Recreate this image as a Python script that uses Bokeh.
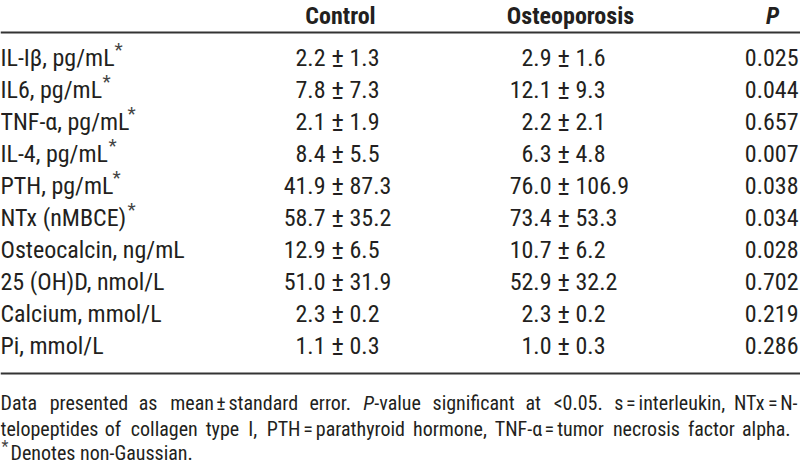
from bokeh.plotting import figure
from bokeh.models import Range1d
from bokeh.core.properties import value
from bokeh.embed import file_html
from bokeh.resources import INLINE

# ---- data ----
variables = ["IL-Iβ, pg/mL", "IL6, pg/mL", "TNF-α, pg/mL", "IL-4, pg/mL", "PTH, pg/mL",
             "NTx (nMBCE)", "Osteocalcin, ng/mL", "25 (OH)D, nmol/L", "Calcium, mmol/L", "Pi, mmol/L"]
non_gaussian = [True, True, True, True, True, True, False, False, False, False]
control_mean = ["2.2", "7.8", "2.1", "8.4", "41.9", "58.7", "12.9", "51.0", "2.3", "1.1"]
control_se = ["1.3", "7.3", "1.9", "5.5", "87.3", "35.2", "6.5", "31.9", "0.2", "0.3"]
osteo_mean = ["2.9", "12.1", "2.2", "6.3", "76.0", "73.4", "10.7", "52.9", "2.3", "1.0"]
osteo_se = ["1.6", "9.3", "2.1", "4.8", "106.9", "53.3", "6.2", "32.2", "0.2", "0.3"]
p_values = ["0.025", "0.044", "0.657", "0.007", "0.038", "0.034", "0.028", "0.702", "0.219", "0.286"]
headers = ["Control", "Osteoporosis", "P"]
# footnote tokens: (text, italic, join)  join: 0 justified space, 1 thin space, 2 none
note_line1 = [("Data", 0, 0), ("presented", 0, 0), ("as", 0, 0), ("mean", 0, 0), ("±", 0, 1),
              ("standard", 0, 1), ("error.", 0, 0), ("P", 1, 0), ("-value", 0, 2),
              ("significant", 0, 0), ("at", 0, 0), ("<0.05.", 0, 0), ("s", 0, 0), ("=", 0, 1),
              ("interleukin,", 0, 1), ("NTx", 0, 0), ("=", 0, 1), ("N-", 0, 1)]
note_line2 = [("telopeptides", 0, 0), ("of", 0, 0), ("collagen", 0, 0), ("type", 0, 0), ("I,", 0, 0),
              ("PTH", 0, 0), ("=", 0, 1), ("parathyroid", 0, 1), ("hormone,", 0, 0),
              ("TNF-α", 0, 0), ("=", 0, 1), ("tumor", 0, 1), ("necrosis", 0, 0), ("factor", 0, 0),
              ("alpha.", 0, 0)]
note_line3 = "Denotes non-Gaussian."

# ---- layout (pixel space 800 x 468) ----
W, H = 800, 468
FONT = "Roboto Condensed"
COLOR = "#231f20"
ROW0, ROW_H = 57, 32
HEAD_Y, RULE1_Y, RULE2_Y = 15, 32, 373
CTRL_PM, OST_PM, P_RIGHT = 337, 563, 798
PM_GAP = 12
star_x = [114, 102, 127, 108, 112, 127]
BODY = "24px"
NOTE_PX = 20
NOTE = "%spx" % NOTE_PX
L1, L2, L3 = 402, 428, 452
L1_END, L2_END = 797, 790
THIN = 3

# approximate advance widths (1/2048 em) for laying out the justified footnote
ADV = dict(zip("abcdefghijklmnopqrstuvwxyz",
               [1114, 1122, 1046, 1128, 1058, 706, 1124, 1102, 486, 478, 1014, 486, 1751,
                1104, 1141, 1122, 1130, 678, 1031, 653, 1102, 968, 1502, 991, 946, 991]))
ADV.update({c: 1150 for c in "0123456789"})
ADV.update({"A": 1336, "C": 1307, "D": 1339, "G": 1368, "I": 557, "N": 1425, "P": 1292,
            "T": 1221, "H": 1425, "L": 1103, "M": 1745, "B": 1276, "E": 1165, "F": 1134,
            "O": 1386, " ": 507, ".": 527, ",": 393, "-": 553, "±": 1082, "=": 1123,
            "<": 1041, "α": 1140, "β": 1190, "*": 883})
COND = 0.875

def est_width(s, px):
    return sum(ADV.get(ch, 1100) for ch in s) / 2048.0 * px * COND

p = figure(width=W, height=H, x_range=Range1d(0, W), y_range=Range1d(H, 0),
           output_backend="svg", toolbar_location=None, min_border=0)
p.axis.visible = False
p.grid.visible = False
p.outline_line_color = None
p.background_fill_color = "white"
p.border_fill_color = "white"

n = len(variables)
row_y = [ROW0 + ROW_H * i for i in range(n)]

def txt(x, y, t, align="left", size=BODY, style="normal", color=COLOR):
    p.text(x=x, y=y, text=t, text_align=align, text_baseline="middle",
           text_font=value(FONT), text_font_size=size, text_font_style=style,
           text_color=color)

# header
txt([340, 570], [HEAD_Y, HEAD_Y], headers[:2], align="center", style="bold")
txt([772], [HEAD_Y], headers[2:], align="center", style="bold italic")

# rules
p.segment(x0=[0, 0], y0=[RULE1_Y, RULE2_Y], x1=[W, W], y1=[RULE1_Y, RULE2_Y],
          line_color="#333333", line_width=2)

# body
txt([0] * n, row_y, variables)
stars = [i for i in range(n) if non_gaussian[i]]
txt([star_x[k] for k in range(len(stars))], [row_y[i] - 8 for i in stars], ["*"] * len(stars),
    size="19px", color="#444444")
txt([CTRL_PM - PM_GAP] * n, row_y, control_mean, align="right")
txt([CTRL_PM] * n, row_y, ["±"] * n, align="center", size="27px")
txt([CTRL_PM + PM_GAP] * n, row_y, control_se, align="left")
txt([OST_PM - PM_GAP] * n, row_y, osteo_mean, align="right")
txt([OST_PM] * n, row_y, ["±"] * n, align="center", size="27px")
txt([OST_PM + PM_GAP] * n, row_y, osteo_se, align="left")
txt([P_RIGHT] * n, row_y, p_values, align="right")

# footnote, justified between x=0 and the line end
def justify(tokens, y, end):
    widths = [est_width(t, NOTE_PX) for t, _, _ in tokens]
    fixed = sum(widths) + THIN * sum(1 for _, _, j in tokens[1:] if j == 1)
    n_gaps = sum(1 for _, _, j in tokens[1:] if j == 0)
    gap = (end - fixed) / max(n_gaps, 1)
    xs, x = [], 0.0
    for k, (t, it, j) in enumerate(tokens):
        if k > 0:
            x += widths[k - 1] + (gap if j == 0 else THIN if j == 1 else 0)
        xs.append(x)
    normal = [k for k, tok in enumerate(tokens) if not tok[1]]
    italic = [k for k, tok in enumerate(tokens) if tok[1]]
    last = len(tokens) - 1
    body = [k for k in normal if k != last]
    txt([xs[k] for k in body], [y] * len(body), [tokens[k][0] for k in body], size=NOTE)
    if italic:
        txt([xs[k] for k in italic], [y] * len(italic), [tokens[k][0] for k in italic],
            size=NOTE, style="italic")
    txt([end], [y], [tokens[last][0]], align="right", size=NOTE)

justify(note_line1, L1, L1_END)
justify(note_line2, L2, L2_END)
txt([1], [L3 - 6], ["*"], size="16px", color="#444444")
txt([10], [L3], [note_line3], size=NOTE)

open("out.html", "w").write(file_html(p, INLINE))
